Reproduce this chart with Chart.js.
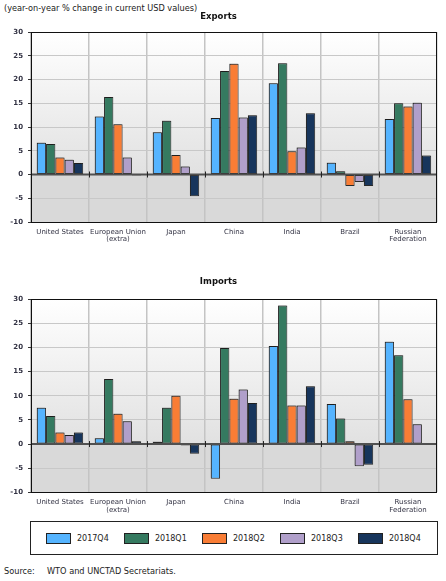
<!DOCTYPE html>
<html>
<head>
<meta charset="utf-8">
<script src="https://cdn.jsdelivr.net/npm/chart.js@4/dist/chart.umd.min.js"></script>
<style>
  html, body { margin: 0; padding: 0; background: #ffffff; }
  body { width: 446px; height: 581px; position: relative; overflow: hidden; font-family: "DejaVu Sans", Verdana, sans-serif; color: #222; }
  #hdr { position: absolute; left: 4px; top: 3px; font-size: 8.2px; color: #222; white-space: nowrap; }
  #c1wrap { position: absolute; left: 0; top: 0; width: 446px; height: 250px; }
  #c2wrap { position: absolute; left: 0; top: 262px; width: 446px; height: 258px; }
  #legend { position: absolute; left: 30px; top: 521px; width: 408px; height: 34px; box-sizing: border-box; border: 1px solid #222; }
  .li { position: absolute; top: 10px; height: 12px; display: flex; align-items: center; font-size: 8px; color: #222; white-space: nowrap; }
  .sw { width: 25px; height: 11px; box-sizing: border-box; border: 1px solid #222; margin-right: 6px; }
  #src { position: absolute; left: 4px; top: 566px; font-size: 8.2px; color: #222; white-space: nowrap; }
  #src span { position: absolute; left: 43px; }
</style>
</head>
<body>
<div id="hdr">(year-on-year % change in current USD values)</div>
<div id="c1wrap"><canvas id="c1" width="446" height="250"></canvas></div>
<div id="c2wrap"><canvas id="c2" width="446" height="258"></canvas></div>
<div id="legend"></div>
<div id="src">Source:<span>WTO and UNCTAD Secretariats.</span></div>
<script>
// ---- Data ----
const categories = [['United States'], ['European Union', '(extra)'], ['Japan'], ['China'], ['India'], ['Brazil'], ['Russian', 'Federation']];
const seriesNames = ['2017Q4', '2018Q1', '2018Q2', '2018Q3', '2018Q4'];
const yTicks = [-10, -5, 0, 5, 10, 15, 20, 25, 30];

const exp2017Q4 = [6.7, 12.2, 8.9, 11.9, 19.2, 2.5, 11.7];
const exp2018Q1 = [6.4, 16.3, 11.3, 21.8, 23.4, 0.7, 15.0];
const exp2018Q2 = [3.6, 10.6, 4.1, 23.3, 4.9, -2.4, 14.3];
const exp2018Q3 = [3.1, 3.6, 1.7, 12.0, 5.7, -1.6, 15.1];
const exp2018Q4 = [2.4, -0.2, -4.6, 12.5, 12.9, -2.4, 4.0];

const imp2017Q4 = [7.5, 1.2, 0.5, -7.2, 20.3, 8.3, 21.2];
const imp2018Q1 = [5.8, 13.5, 7.5, 19.9, 28.7, 5.3, 18.4];
const imp2018Q2 = [2.4, 6.3, 10.0, 9.4, 8.0, 0.6, 9.3];
const imp2018Q3 = [1.9, 4.7, -0.3, 11.3, 8.0, -4.6, 4.1];
const imp2018Q4 = [2.4, 0.6, -2.0, 8.5, 12.0, -4.3, -0.1];

const seriesColors = ['#55b4ff', '#357a60', '#f97d35', '#b09fca', '#17355c'];

const exportsSeries = [exp2017Q4, exp2018Q1, exp2018Q2, exp2018Q3, exp2018Q4];
const importsSeries = [imp2017Q4, imp2018Q1, imp2018Q2, imp2018Q3, imp2018Q4];

const FONT = '"DejaVu Sans", Verdana, sans-serif';

const plotDecor = {
  id: 'plotDecor',
  beforeDraw(chart) {
    const { ctx, chartArea: a, scales: { y } } = chart;
    const z = y.getPixelForValue(0);
    ctx.save();
    const g = ctx.createLinearGradient(0, a.top, 0, z);
    g.addColorStop(0, '#ffffff');
    g.addColorStop(1, '#e1e1e1');
    ctx.fillStyle = g;
    ctx.fillRect(a.left, a.top, a.width, z - a.top);
    ctx.fillStyle = '#d9d9d9';
    ctx.fillRect(a.left, z, a.width, a.bottom - z);
    ctx.restore();
  },
  beforeDatasetsDraw(chart) {
    const { ctx } = chart;
    ctx.save();
    ctx.shadowColor = 'rgba(0,0,0,0.3)';
    ctx.shadowOffsetX = -1;
    ctx.shadowOffsetY = -1;
    ctx.shadowBlur = 0;
  },
  afterDatasetsDraw(chart) {
    const { ctx, chartArea: a, scales: { x, y } } = chart;
    ctx.restore();
    const z = y.getPixelForValue(0);
    ctx.save();
    ctx.strokeStyle = '#505050';
    ctx.lineWidth = 2;
    ctx.beginPath();
    ctx.moveTo(a.left, z);
    ctx.lineTo(a.right, z);
    ctx.stroke();
    ctx.lineWidth = 1;
    ctx.strokeStyle = '#222';
    const n = x.ticks.length;
    for (let i = 0; i < n - 1; i++) {
      const bx = Math.round((x.getPixelForTick(i) + x.getPixelForTick(i + 1)) / 2) + 0.5;
      ctx.beginPath();
      ctx.moveTo(bx, z - 3);
      ctx.lineTo(bx, z + 3);
      ctx.stroke();
    }
    ctx.strokeStyle = '#111';
    ctx.lineWidth = 1;
    ctx.strokeRect(Math.round(a.left) + 0.5, Math.round(a.top) + 0.5, Math.round(a.width) - 1, Math.round(a.height));
    ctx.restore();
  }
};

function makeChart(id, title, seriesData, titlePad, bottomPad) {
  return new Chart(document.getElementById(id), {
    type: 'bar',
    data: {
      labels: categories,
      datasets: seriesData.map((d, i) => ({
        label: seriesNames[i],
        data: d,
        backgroundColor: seriesColors[i],
        borderColor: '#2a2a2a',
        borderWidth: 1,
        borderSkipped: false,
        categoryPercentage: 0.8,
        barPercentage: 1.0
      }))
    },
    options: {
      responsive: false,
      animation: false,
      devicePixelRatio: 1,
      layout: { padding: { left: 0, right: 9, top: 0, bottom: bottomPad } },
      plugins: {
        legend: { display: false },
        tooltip: { enabled: false },
        title: {
          display: true,
          text: title,
          color: '#111',
          font: { family: FONT, size: 8.5, weight: 'bold', lineHeight: 1.2 },
          padding: titlePad
        }
      },
      scales: {
        x: {
          grid: { color: '#c4c4c4', lineWidth: 1.5, offset: true, drawTicks: false },
          border: { display: false },
          ticks: {
            color: '#333344',
            font: { family: FONT, size: 7, lineHeight: 1.1 },
            padding: 6,
            maxRotation: 0,
            autoSkip: false
          },
          afterFit(s) { s.height = 26; }
        },
        y: {
          min: -10,
          max: 30,
          afterBuildTicks(s) { s.ticks = yTicks.map(v => ({ value: v })); },
          grid: { color: '#c8c8c8', lineWidth: 1, tickColor: '#333', tickLength: 3 },
          border: { display: false },
          ticks: {
            color: '#333344',
            font: { family: FONT, size: 7, weight: 'bold' },
            padding: 5
          },
          afterFit(s) { s.width = 31; }
        }
      }
    },
    plugins: [plotDecor]
  });
}

makeChart('c1', 'Exports', exportsSeries, { top: 11.9, bottom: 9.9 }, 2);
makeChart('c2', 'Imports', importsSeries, { top: 14.9, bottom: 12.2 }, 1.7);

// HTML legend built from series
const legend = document.getElementById('legend');
seriesNames.forEach((name, i) => {
  const item = document.createElement('div');
  item.className = 'li';
  item.style.left = (15 + i * 78) + 'px';
  const sw = document.createElement('div');
  sw.className = 'sw';
  sw.style.background = seriesColors[i];
  const t = document.createElement('span');
  t.textContent = name;
  item.appendChild(sw);
  item.appendChild(t);
  legend.appendChild(item);
});
</script>
</body>
</html>
